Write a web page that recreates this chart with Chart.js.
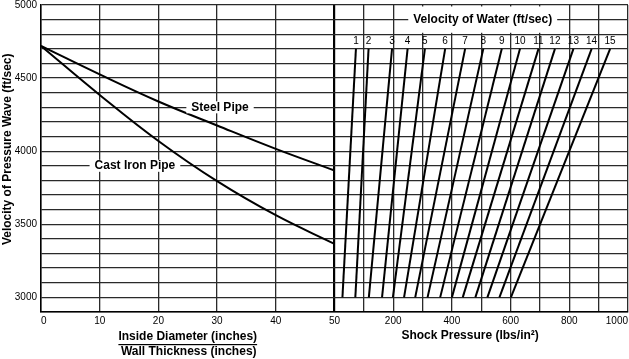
<!DOCTYPE html>
<html>
<head>
<meta charset="utf-8">
<script src="https://cdn.jsdelivr.net/npm/chart.js@4.4.0/dist/chart.umd.min.js"></script>
<style>
  html, body { margin: 0; padding: 0; background: #fff; }
</style>
</head>
<body>
<canvas id="graph" width="629" height="359"></canvas>
<script>
// left panel: inside diameter / wall thickness vs wave velocity
var ratioValues = [0, 10, 20, 30, 40, 50];
var steelVelocity = [4720, 4525, 4340, 4176, 4016, 3868];
var castIronVelocity = [4720, 4385, 4070, 3795, 3562, 3366];

// right panel: shock pressure lines per velocity of water
var waterVelocity = [1, 2, 3, 4, 5, 6, 7, 8, 9, 10, 11, 12, 13, 14, 15];
var pressureAtLow = [27, 71, 117, 162, 199, 237, 275, 317, 360, 400, 437, 480, 521, 562, 601];
var pressureAtHigh = [73, 116, 196, 249, 308, 377, 445, 507, 570, 632, 695, 751, 814, 876, 939];
var waveLow = 3000;
var waveHigh = 4700;

var waveTickLabels = [3000, 3500, 4000, 4500, 5000];
var ratioTickLabels = [0, 10, 20, 30, 40, 50];
var pressureTickLabels = [200, 400, 600, 800, 1000];

var font = "'Liberation Sans', Arial, sans-serif";

// both panels share one x scale: 0..50 is the ratio, 50..100 is pressure/20
function toX(p){
    return 50 + p / 20;
}

var datasets = [];
datasets.push({
    label: 'Steel Pipe',
    data: ratioValues.map(function(r, i){ return {x: r, y: steelVelocity[i]}; }),
    showLine: true, borderColor: '#000', borderWidth: 2, pointRadius: 0, tension: 0.4
});
datasets.push({
    label: 'Cast Iron Pipe',
    data: ratioValues.map(function(r, i){ return {x: r, y: castIronVelocity[i]}; }),
    showLine: true, borderColor: '#000', borderWidth: 2, pointRadius: 0, tension: 0.4
});
for(let i = 0; i < waterVelocity.length; i++){
    datasets.push({
        label: String(waterVelocity[i]),
        data: [{x: toX(pressureAtLow[i]), y: waveLow}, {x: toX(pressureAtHigh[i]), y: waveHigh}],
        showLine: true, borderColor: '#000', borderWidth: 2, pointRadius: 0
    });
}

function boxedText(ctx, text, cx, cy, top, bottom){
    var w = ctx.measureText(text).width;
    ctx.fillStyle = '#fff';
    ctx.fillRect(cx - w / 2 - 5, top, w + 10, bottom - top);
    ctx.fillStyle = '#000';
    ctx.fillText(text, cx, cy);
}

var overlay = {
    id: 'overlay',
    afterDatasetsDraw: function(chart){
        var ctx = chart.ctx, x = chart.scales.x, y = chart.scales.y;
        ctx.save();
        ctx.textAlign = 'center';
        ctx.textBaseline = 'middle';
        ctx.font = 'bold 12px ' + font;

        var sy = y.getPixelForValue(4300);
        boxedText(ctx, 'Steel Pipe', x.getPixelForValue(30.5), sy, sy - 6, sy + 6);
        var cy = y.getPixelForValue(3900);
        boxedText(ctx, 'Cast Iron Pipe', x.getPixelForValue(16), cy, cy - 6, cy + 6);
        boxedText(ctx, 'Velocity of Water (ft/sec)', x.getPixelForValue(toX(505)),
            y.getPixelForValue(4900), y.getPixelForValue(4990), y.getPixelForValue(4810));

        ctx.font = '10px ' + font;
        for(let i = 0; i < waterVelocity.length; i++){
            ctx.fillText(String(waterVelocity[i]), x.getPixelForValue(toX(pressureAtHigh[i])),
                y.getPixelForValue(4752));
        }
        ctx.restore();
    },
    afterDraw: function(chart){
        var ctx = chart.ctx, x = chart.scales.x, a = chart.chartArea;
        ctx.save();
        ctx.fillStyle = '#000';
        ctx.font = 'bold 12px ' + font;
        ctx.textAlign = 'center';
        ctx.textBaseline = 'middle';

        var lx = x.getPixelForValue(25);
        var top = 'Inside Diameter (inches)';
        ctx.fillText(top, lx, 337);
        var w = ctx.measureText(top).width;
        ctx.fillRect(lx - w / 2, 344, w, 1.2);
        ctx.fillText('Wall Thickness (inches)', lx + 1, 352);

        ctx.fillText('Shock Pressure (lbs/in\u00b2)', x.getPixelForValue(toX(462)), 336);

        ctx.translate(8, a.top + (a.bottom - a.top) * 0.47);
        ctx.rotate(-Math.PI / 2);
        ctx.fillText('Velocity of Pressure Wave (ft/sec)', 0, 0);
        ctx.restore();
    }
};

var ctx = document.getElementById('graph').getContext('2d');
var chart = new Chart(ctx, {
    type: 'scatter',
    data: { datasets: datasets },
    plugins: [overlay],
    options: {
        responsive: false,
        animation: false,
        layout: { padding: { top: 5, right: 1, left: 0, bottom: 0 } },
        plugins: { legend: { display: false }, tooltip: { enabled: false } },
        scales: {
            x: {
                type: 'linear', min: 0, max: 100,
                ticks: {
                    stepSize: 5, autoSkip: false, maxRotation: 0, align: 'inner',
                    padding: 3, color: '#000', font: { size: 10, family: font },
                    callback: function(v){
                        if(v <= 50) return ratioTickLabels.indexOf(v) >= 0 ? v : '';
                        var p = (v - 50) * 20;
                        return pressureTickLabels.indexOf(p) >= 0 ? p : '';
                    }
                },
                grid: {
                    drawTicks: false,
                    color: function(c){
                        var v = c.tick.value;
                        if(v < 50 && v % 10 !== 0) return 'rgba(0,0,0,0)';
                        return v === 50 ? '#000' : '#2a2a2a';
                    },
                    lineWidth: function(c){ return c.tick.value === 50 ? 2.2 : 1.3; }
                },
                border: { color: '#000', width: 1.5 },
                afterFit: function(s){ s.height = 47; s.paddingLeft = 0; s.paddingRight = 0; }
            },
            y: {
                min: 2900, max: 5000,
                ticks: {
                    stepSize: 100, autoSkip: false, padding: 4, color: '#000',
                    font: { size: 10, family: font },
                    callback: function(v){ return waveTickLabels.indexOf(v) >= 0 ? v : ''; }
                },
                grid: { drawTicks: false, color: '#2a2a2a', lineWidth: 1.3 },
                border: { color: '#000', width: 1.5 },
                afterFit: function(s){ s.width = 41; s.paddingTop = 0; s.paddingBottom = 0; }
            }
        }
    }
});
</script>
</body>
</html>
